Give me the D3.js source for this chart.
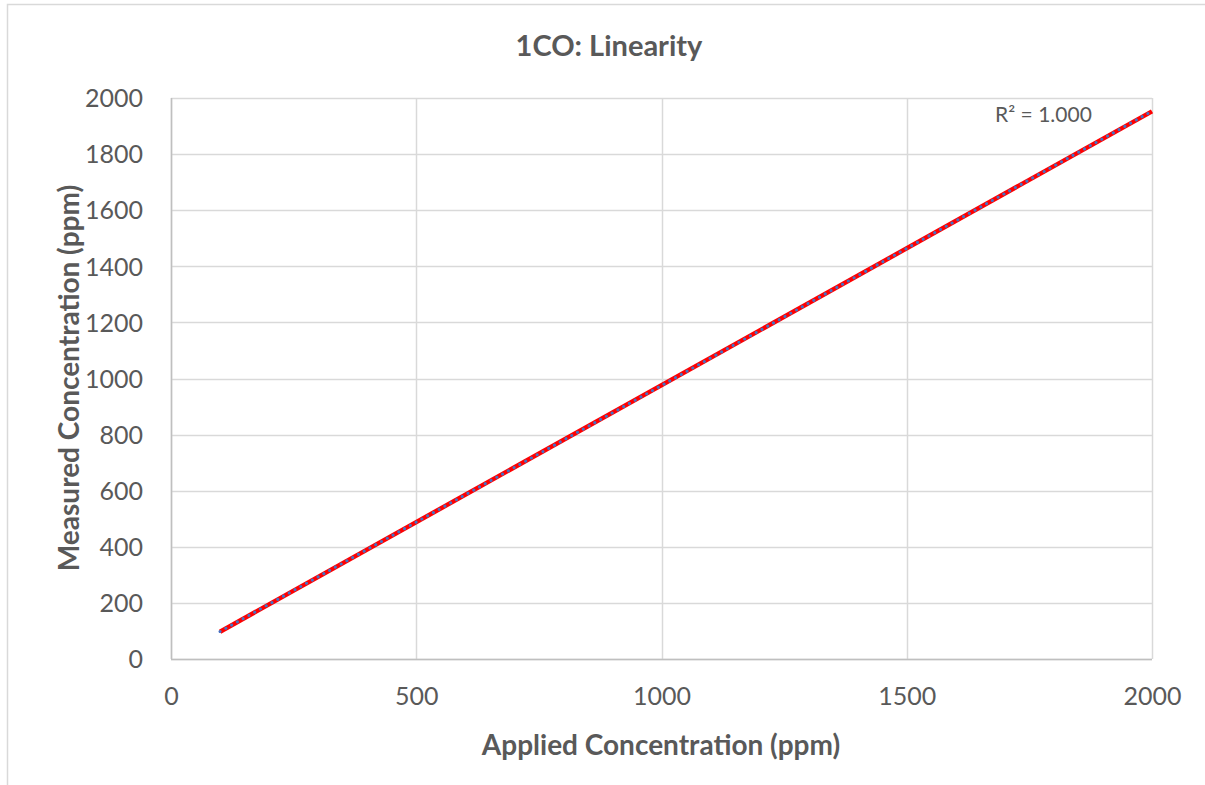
<!DOCTYPE html>
<html>
<head>
<meta charset="utf-8">
<script src="https://cdn.jsdelivr.net/npm/d3@7"></script>
<style>
  body { margin: 0; background: #fff; }
  svg { display: block; font-family: Lato, "Open Sans", sans-serif; }
</style>
</head>
<body>
<svg id="chart" width="1205" height="785"></svg>
<script>
// data
var applied = [100, 500, 1000, 1500, 2000];
var measured = [98, 488, 975, 1464, 1953];
var xTicks = [0, 500, 1000, 1500, 2000];
var yTicks = [0, 200, 400, 600, 800, 1000, 1200, 1400, 1600, 1800, 2000];

var title = "1CO: Linearity";
var xTitle = "Applied Concentration (ppm)";
var yTitle = "Measured Concentration (ppm)";

var margin = { top: 98, right: 53, bottom: 126, left: 171 };
var W = 1205, H = 785;
var width = W - margin.left - margin.right,
    height = H - margin.top - margin.bottom;

var textColor = "#595959";

var svg = d3.select("#chart");

// outer chart frame (runs past the right / bottom edge like the original)
svg.append("rect")
  .attr("x", 7.5).attr("y", 4.5)
  .attr("width", W + 20).attr("height", H + 20)
  .attr("fill", "none").attr("stroke", "#d9d9d9").attr("stroke-width", 1.5);

var g = svg.append("g")
  .attr("transform", "translate(" + margin.left + "," + margin.top + ")");

var x = d3.scaleLinear().domain([0, 2000]).range([0, width]);
var y = d3.scaleLinear().domain([0, 2000]).range([height, 0]);

// grid
g.append("g")
  .selectAll("line.hgrid")
  .data(yTicks)
  .enter().append("line")
  .attr("class", "hgrid")
  .attr("x1", 0).attr("x2", width)
  .attr("y1", function(d) { return Math.round(y(d)) + 0.5; })
  .attr("y2", function(d) { return Math.round(y(d)) + 0.5; })
  .attr("stroke", "#d9d9d9").attr("stroke-width", 1.5);

g.append("g")
  .selectAll("line.vgrid")
  .data(xTicks)
  .enter().append("line")
  .attr("class", "vgrid")
  .attr("y1", 0).attr("y2", height)
  .attr("x1", function(d) { return Math.round(x(d)) + 0.5; })
  .attr("x2", function(d) { return Math.round(x(d)) + 0.5; })
  .attr("stroke", "#d9d9d9").attr("stroke-width", 1.5);

// axis lines (left + bottom, a bit darker)
g.append("line")
  .attr("x1", 0.5).attr("x2", 0.5).attr("y1", 0).attr("y2", height)
  .attr("stroke", "#bfbfbf").attr("stroke-width", 1.5);
g.append("line")
  .attr("x1", 0).attr("x2", width).attr("y1", height + 0.5).attr("y2", height + 0.5)
  .attr("stroke", "#bfbfbf").attr("stroke-width", 1.5);

// axes, labels only
var xAxis = d3.axisBottom(x).tickValues(xTicks).tickSize(0).tickPadding(28).tickFormat(d3.format("d"));
var yAxis = d3.axisLeft(y).tickValues(yTicks).tickSize(0).tickPadding(28).tickFormat(d3.format("d"));

var gx = g.append("g").attr("transform", "translate(0," + height + ")").call(xAxis);
var gy = g.append("g").call(yAxis);
[gx, gy].forEach(function(a) {
  a.select(".domain").remove();
  a.selectAll("text")
    .attr("fill", textColor)
    .style("font-size", "25px")
    .style("font-family", "Lato, 'Open Sans', sans-serif");
});
gy.selectAll("text").attr("dy", "0.35em");
gx.selectAll("text").attr("dy", "0.71em");

// linear trendline (least squares over the data)
var n = applied.length;
var mx = d3.mean(applied), my = d3.mean(measured);
var sxy = 0, sxx = 0, syy = 0;
for (var i = 0; i < n; i++) {
  sxy += (applied[i] - mx) * (measured[i] - my);
  sxx += (applied[i] - mx) * (applied[i] - mx);
  syy += (measured[i] - my) * (measured[i] - my);
}
var slope = sxy / sxx, intercept = my - slope * mx;
var r2 = (sxy * sxy) / (sxx * syy);
var xMin = d3.min(applied), xMax = d3.max(applied);

g.append("line")
  .attr("x1", x(xMin)).attr("y1", y(slope * xMin + intercept))
  .attr("x2", x(xMax)).attr("y2", y(slope * xMax + intercept))
  .attr("stroke", "#ff0000").attr("stroke-width", 4.5);

// data series, blue round-dot line
var pts = applied.map(function(a, i) { return [a, measured[i]]; });
var line = d3.line().x(function(d) { return x(d[0]); }).y(function(d) { return y(d[1]); });
g.append("path")
  .datum(pts)
  .attr("d", line)
  .attr("fill", "none")
  .attr("stroke", "#4472c4")
  .attr("stroke-width", 3)
  .attr("stroke-linecap", "round")
  .attr("stroke-dasharray", "0.1 6.5");

// R² label
g.append("text")
  .attr("x", x(1680)).attr("y", y(1914))
  .attr("fill", textColor)
  .style("font-size", "21px")
  .text("R\u00b2 = " + r2.toFixed(3));

// titles
svg.append("text")
  .attr("x", 609).attr("y", 56)
  .attr("text-anchor", "middle")
  .attr("fill", textColor)
  .style("font-size", "29px").style("font-weight", "bold")
  .text(title);

svg.append("text")
  .attr("x", 661).attr("y", 755)
  .attr("text-anchor", "middle")
  .attr("fill", textColor)
  .style("font-size", "28px").style("font-weight", "bold")
  .text(xTitle);

svg.append("text")
  .attr("transform", "translate(79," + 378 + ") rotate(-90)")
  .attr("text-anchor", "middle")
  .attr("fill", textColor)
  .style("font-size", "28px").style("font-weight", "bold")
  .text(yTitle);
</script>
</body>
</html>
